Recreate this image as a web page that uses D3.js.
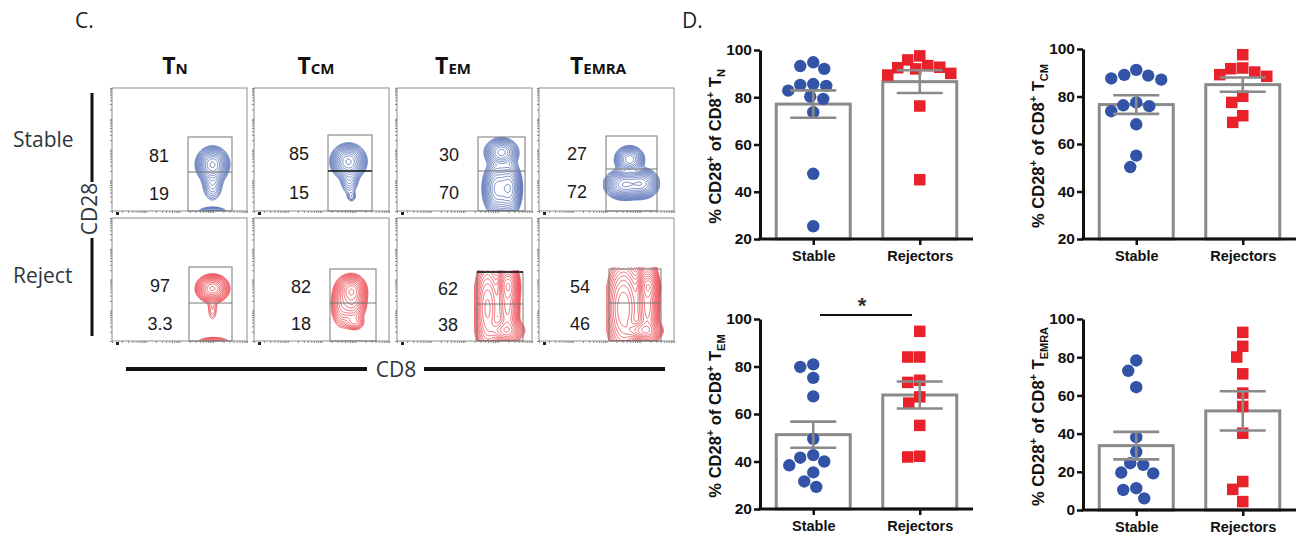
<!DOCTYPE html>
<html>
<head>
<meta charset="utf-8">
<script src="https://cdn.jsdelivr.net/npm/d3@7"></script>
<style>
  body { margin: 0; background: #fff; }
  svg { display: block; }
</style>
</head>
<body>
<svg id="fig" width="1304" height="539"></svg>
<script>
// ---------- data ----------
const groups = ['Stable', 'Rejectors'];
const subsets = ['N', 'CM', 'EM', 'EMRA'];
const flowRows = ['Stable', 'Reject'];

// panel C: % CD28+ (upper gate) / CD28- (lower gate)
const pctStableHi = ['81', '85', '30', '27'];
const pctStableLo = ['19', '15', '70', '72'];
const pctRejectHi = ['97', '82', '62', '54'];
const pctRejectLo = ['3.3', '18', '38', '46'];

// panel D: individual patients
const tnStable   = [94.8, 92, 93.2, 85.2, 84.8, 85.6, 82.8, 80.3, 79.3, 73.7, 47.6, 25.4];
const tnReject   = [97.5, 92.7, 92, 95.8, 92.5, 93.4, 89.4, 90.1, 76.3, 45.1];
const tcmStable  = [89.1, 87.6, 87.1, 88.8, 91.2, 77.5, 75.9, 73.8, 76.3, 68.3, 55.1, 50.3];
const tcmReject  = [92, 90.3, 97.6, 88.5, 89.2, 91.7, 80.1, 77.5, 71.9, 69.1];
const temStable  = [79.8, 80.9, 75.2, 67.4, 49.5, 41.6, 42.7, 40, 38.4, 35.4, 31.6, 29.3];
const temReject  = [94.8, 84, 84, 74.2, 73.3, 64.6, 67.2, 55.2, 41.9, 42.2];
const temraStable = [78.3, 72.9, 64.3, 38.1, 30.4, 24.5, 23.6, 19.6, 19.2, 11.4, 10.5, 6.1];
const temraReject = [93, 85.7, 80.1, 71.3, 61.2, 54.2, 40.2, 14.9, 10.8, 4.4];

// bar heights (mean) and error (SEM), Stable / Rejectors
const meanTN = [77.1, 86.6],   semTN = [5.8, 4.8];
const meanTCM = [76.6, 85.0],  semTCM = [3.9, 3.0];
const meanTEM = [51.3, 68.0],  semTEM = [5.5, 5.7];
const meanTEMRA = [33.7, 51.9], semTEMRA = [7.2, 10.3];

const yTicksHigh = [20, 40, 60, 80, 100];
const yTicksFull = [0, 20, 40, 60, 80, 100];

// ---------- helpers ----------
const svg = d3.select('#fig');
const blue = '#3253a6', red = '#e8212b';
const flowBlue = '#2f50a8', flowRed = '#e8212b';

// ---------- panel C ----------
svg.append('text').attr('x', 75).attr('y', 28)
  .style('font', '21px "Open Sans", sans-serif').attr('fill', '#222').text('C.');

const boxW = 135, boxH = 123;
const colX = [112, 254, 397, 539];
const rowY = [88, 218];
const titleX = [175, 316, 453, 598];

subsets.forEach((s, i) => {
  const t = svg.append('text').attr('x', titleX[i]).attr('y', 74)
    .attr('text-anchor', 'middle').attr('fill', '#111')
    .style('font-family', '"Open Sans", sans-serif').style('font-weight', 700);
  t.append('tspan').style('font-size', '23px').text('T');
  t.append('tspan').style('font-size', '15px').text(s);
});

// row labels + bars
flowRows.forEach((r, i) => {
  svg.append('text').attr('x', 13).attr('y', i === 0 ? 147 : 283)
    .style('font', '21px "Open Sans", sans-serif').attr('fill', '#2d3640').text(r);
});
svg.append('line').attr('x1', 92).attr('x2', 92).attr('y1', 93).attr('y2', 182)
  .attr('stroke', '#111').attr('stroke-width', 3);
svg.append('line').attr('x1', 92).attr('x2', 92).attr('y1', 238).attr('y2', 336)
  .attr('stroke', '#111').attr('stroke-width', 3);
svg.append('text').attr('transform', 'translate(97,209) rotate(-90)')
  .attr('text-anchor', 'middle')
  .style('font', '21px "Open Sans", sans-serif').attr('fill', '#2d3640').text('CD28');

svg.append('line').attr('x1', 126).attr('x2', 367).attr('y1', 369).attr('y2', 369)
  .attr('stroke', '#111').attr('stroke-width', 4);
svg.append('line').attr('x1', 424).attr('x2', 665).attr('y1', 369).attr('y2', 369)
  .attr('stroke', '#111').attr('stroke-width', 4);
svg.append('text').attr('x', 396).attr('y', 377).attr('text-anchor', 'middle')
  .style('font', '21px "Open Sans", sans-serif').attr('fill', '#2d3640').text('CD8');

// gates (box-relative px): x0, x1, top, divider
const gates = [
  [[76, 120, 49, 84], [74, 118, 47, 83], [81, 128, 49, 83], [67, 118, 48, 81]],
  [[77, 120, 49, 85], [76, 122, 51, 85], [80, 126, 54, 86], [70, 122, 51, 85]]
];
// density blobs: cx, cy, sx, sy, weight (box-relative px)
const blobs = [
  [
    [[100, 76, 6.5, 7, 1], [100, 94, 5, 9, 0.18], [100, 123, 8, 2.5, 0.12]],
    [[94, 73, 7, 7, 1], [95, 90, 4.5, 8, 0.16], [97, 108, 2.5, 3, 0.07]],
    [[104, 64, 7, 6, 0.6], [100, 100, 6, 11, 0.8], [112, 100, 5, 11, 0.85]],
    [[90, 71, 6, 5.5, 0.65], [85, 96, 8, 6, 0.9], [102, 95, 7, 6, 0.8]]
  ],
  [
    [[100, 70, 6.5, 5.5, 1], [100, 90, 3, 8, 0.06], [101, 123, 9, 2.5, 0.1]],
    [[97, 72, 6, 6.5, 1], [98, 85, 6, 8, 0.5], [87, 86, 5, 11, 0.25], [100, 104, 5, 4, 0.15]],
    [[90, 90, 6, 22, 0.5], [110, 84, 5, 22, 0.7], [111, 67, 4.5, 7, 0.6], [108, 112, 8, 5, 0.55]],
    [[84, 90, 8, 22, 0.45], [108, 86, 5, 22, 0.7], [109, 68, 4.5, 6, 0.6], [104, 112, 8, 4.5, 0.6]]
  ]
];

const fx = d3.scaleLog().domain([10, 1e5]).range([0, boxW]);
const fy = d3.scaleLog().domain([10, 1e5]).range([boxH, 0]);
const contourPath = d3.geoPath();

rowY.forEach((by, r) => {
  colX.forEach((bx, c) => {
    const g = svg.append('g').attr('transform', `translate(${bx},${by})`);
    const col = r === 0 ? flowBlue : flowRed;
    const [x0, x1, gt, gd] = gates[r][c];

    // density field and contours
    const bl = blobs[r][c];
    const vals = new Float64Array(boxW * boxH);
    for (let j = 0; j < boxH; j++) {
      for (let i = 0; i < boxW; i++) {
        let v = 0;
        bl.forEach(([cx, cy, sx, sy, w]) => {
          v += w * Math.exp(-((i - cx) ** 2) / (2 * sx * sx) - ((j - cy) ** 2) / (2 * sy * sy));
        });
        vals[j * boxW + i] = v;
      }
    }
    const vmax = d3.max(vals);
    const levels = d3.range(14).map(k => vmax * 0.93 * Math.pow(0.76, k));
    const clipId = `clip${r}${c}`;
    g.append('clipPath').attr('id', clipId).append('rect')
      .attr('x', x0 - 3).attr('y', gt - 2).attr('width', x1 - x0 + 6).attr('height', boxH - gt + 2);
    g.append('g').attr('clip-path', `url(#${clipId})`)
      .selectAll('path')
      .data(d3.contours().size([boxW, boxH]).thresholds(levels)(vals))
      .join('path')
      .attr('d', contourPath)
      .attr('fill', 'none')
      .attr('stroke', col)
      .attr('stroke-width', 0.75)
      .attr('stroke-opacity', 0.9);

    // frame
    g.append('rect').attr('width', boxW).attr('height', boxH)
      .attr('fill', 'none').attr('stroke', '#8c8c8c').attr('stroke-width', 1);

    // gate
    g.append('rect').attr('x', x0).attr('y', gt).attr('width', x1 - x0).attr('height', boxH - gt)
      .attr('fill', 'none').attr('stroke', '#777').attr('stroke-width', 1);
    g.append('line').attr('x1', x0).attr('x2', x1).attr('y1', gd).attr('y2', gd)
      .attr('stroke', r === 0 && c === 1 ? '#111' : '#777').attr('stroke-width', r === 0 && c === 1 ? 1.4 : 1);
    // top edge of TEM reject gate is drawn darker
    if (r === 1 && c === 2) {
      g.append('line').attr('x1', x0).attr('x2', x1).attr('y1', gt).attr('y2', gt)
        .attr('stroke', '#111').attr('stroke-width', 1.4);
    }

    // log axes
    g.append('g').call(d3.axisLeft(fy).tickValues(fy.ticks()).tickSize(2).tickFormat(''))
      .call(a => a.select('.domain').remove())
      .call(a => a.selectAll('line').attr('stroke', '#888'));
    g.append('g').attr('transform', `translate(0,${boxH})`)
      .call(d3.axisBottom(fx).tickValues(fx.ticks()).tickSize(2).tickFormat(''))
      .call(a => a.select('.domain').remove())
      .call(a => a.selectAll('line').attr('stroke', '#888'));
    g.append('rect').attr('x', 4).attr('y', boxH + 1).attr('width', 3).attr('height', 3).attr('fill', '#222');

    // percentages
    const hi = r === 0 ? pctStableHi : pctRejectHi;
    const lo = r === 0 ? pctStableLo : pctRejectLo;
    const numX = x0 - 29;
    g.append('text').attr('x', numX).attr('y', (gt + gd) / 2 + 7).attr('text-anchor', 'middle')
      .style('font', '18px "Liberation Sans", Arial, sans-serif').attr('fill', '#1a1a1a').text(hi[c]);
    g.append('text').attr('x', numX).attr('y', (gd + boxH) / 2 + 8).attr('text-anchor', 'middle')
      .style('font', '18px "Liberation Sans", Arial, sans-serif').attr('fill', '#1a1a1a').text(lo[c]);
  });
});

// ---------- panel D ----------
svg.append('text').attr('x', 682).attr('y', 28)
  .style('font', '21px "Open Sans", sans-serif').attr('fill', '#222').text('D.');

const charts = [
  { left: 760, top: 50, bottom: 239, dom: [20, 100], ticks: yTicksHigh, sub: 'N',
    stable: tnStable, reject: tnReject, mean: meanTN, sem: semTN, labelX: 721 },
  { left: 1083, top: 49, bottom: 239, dom: [20, 100], ticks: yTicksHigh, sub: 'CM',
    stable: tcmStable, reject: tcmReject, mean: meanTCM, sem: semTCM, labelX: 1044 },
  { left: 760, top: 319, bottom: 509, dom: [20, 100], ticks: yTicksHigh, sub: 'EM',
    stable: temStable, reject: temReject, mean: meanTEM, sem: semTEM, labelX: 721, star: true },
  { left: 1083, top: 319, bottom: 510, dom: [0, 100], ticks: yTicksFull, sub: 'EMRA',
    stable: temraStable, reject: temraReject, mean: meanTEMRA, sem: semTEMRA, labelX: 1044 }
];

const R = 6.2, SQ = 11.5;

// simple beeswarm: push points sideways until they stop overlapping
function swarm(values, y, cx, minDist) {
  const placed = [];
  const order = values.map((v, i) => i).sort((a, b) => values[b] - values[a]);
  const out = new Array(values.length);
  order.forEach(i => {
    const py = y(values[i]);
    let px = cx;
    for (let k = 0; k < 80; k++) {
      const cand = k % 2 === 0 ? cx + k / 2 : cx - (k + 1) / 2;
      if (placed.every(p => Math.hypot(p[0] - cand, p[1] - py) >= minDist)) { px = cand; break; }
    }
    placed.push([px, py]);
    out[i] = [px, py];
  });
  return out;
}

charts.forEach(ch => {
  const right = ch.left + 213;
  const y = d3.scaleLinear().domain(ch.dom).range([ch.bottom, ch.top]);
  const x = d3.scalePoint().domain(groups).range([ch.left, right]).padding(0.5);
  const barW = 74;
  const g = svg.append('g');

  // bars
  g.selectAll('rect.bar').data(groups).join('rect')
    .attr('class', 'bar')
    .attr('x', d => x(d) - barW / 2)
    .attr('y', (d, i) => y(ch.mean[i]))
    .attr('width', barW)
    .attr('height', (d, i) => ch.bottom - y(ch.mean[i]))
    .attr('fill', '#fff').attr('stroke', '#8a8a8a').attr('stroke-width', 3);

  // points
  const sPos = swarm(ch.stable, y, x('Stable'), 2 * R + 0.3);
  g.selectAll('circle').data(sPos).join('circle')
    .attr('cx', d => d[0]).attr('cy', d => d[1]).attr('r', R).attr('fill', blue);
  const rPos = swarm(ch.reject, y, x('Rejectors'), SQ + 0.5);
  g.selectAll('rect.pt').data(rPos).join('rect')
    .attr('class', 'pt')
    .attr('x', d => d[0] - SQ / 2).attr('y', d => d[1] - SQ / 2)
    .attr('width', SQ).attr('height', SQ).attr('fill', red);

  // error bars
  groups.forEach((grp, i) => {
    const cx = x(grp), hi = y(ch.mean[i] + ch.sem[i]), lo = y(ch.mean[i] - ch.sem[i]);
    const e = g.append('g').attr('stroke', '#8a8a8a').attr('stroke-width', 2.6);
    e.append('line').attr('x1', cx).attr('x2', cx).attr('y1', hi).attr('y2', lo);
    e.append('line').attr('x1', cx - 23).attr('x2', cx + 23).attr('y1', hi).attr('y2', hi);
    e.append('line').attr('x1', cx - 23).attr('x2', cx + 23).attr('y1', lo).attr('y2', lo);
  });

  // axes
  const ya = g.append('g').attr('transform', `translate(${ch.left},0)`)
    .call(d3.axisLeft(y).tickValues(ch.ticks).tickSize(6).tickPadding(2).tickSizeOuter(0));
  ya.select('.domain').attr('stroke', '#111').attr('stroke-width', 3);
  ya.selectAll('line').attr('stroke', '#111').attr('stroke-width', 2.5);
  ya.selectAll('text').style('font', 'bold 15.5px "Liberation Sans", Arial, sans-serif').attr('fill', '#111');

  const xa = g.append('g').attr('transform', `translate(0,${ch.bottom})`)
    .call(d3.axisBottom(x).tickSize(6).tickPadding(6).tickSizeOuter(0));
  xa.select('.domain').attr('stroke', '#111').attr('stroke-width', 3)
    .attr('d', `M${ch.left - 1.5},0H${right}`);
  xa.selectAll('line').attr('stroke', '#111').attr('stroke-width', 2.5);
  xa.selectAll('text').style('font', 'bold 14.5px "Liberation Sans", Arial, sans-serif').attr('fill', '#111');

  // y label
  const lbl = g.append('text')
    .attr('transform', `translate(${ch.labelX},${(ch.top + ch.bottom) / 2 + 2}) rotate(-90)`)
    .attr('text-anchor', 'middle').attr('fill', '#111')
    .style('font', 'bold 16.5px "Liberation Sans", Arial, sans-serif');
  lbl.append('tspan').text('% CD28');
  lbl.append('tspan').attr('dy', -7).style('font-size', '11px').text('+');
  lbl.append('tspan').attr('dy', 7).text(' of CD8');
  lbl.append('tspan').attr('dy', -7).style('font-size', '11px').text('+');
  lbl.append('tspan').attr('dy', 7).text(' T');
  lbl.append('tspan').attr('dy', 4).style('font-size', '11px').text(ch.sub);

  if (ch.star) {
    g.append('line').attr('x1', 820).attr('x2', 912).attr('y1', 315).attr('y2', 315)
      .attr('stroke', '#111').attr('stroke-width', 2.2);
    g.append('text').attr('x', 862).attr('y', 313).attr('text-anchor', 'middle')
      .style('font', 'bold 22px "Liberation Sans", Arial, sans-serif').attr('fill', '#333').text('*');
  }
});
</script>
</body>
</html>
